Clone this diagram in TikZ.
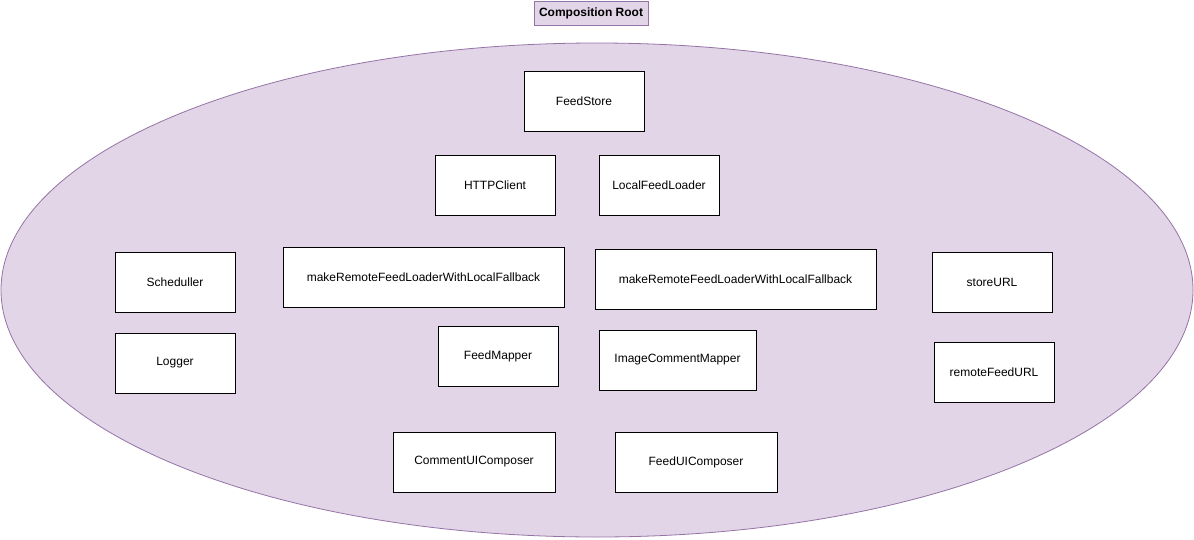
\documentclass[tikz,border=0pt]{standalone}
\usepackage{fontspec}
\setmainfont{Liberation Sans}
\usetikzlibrary{positioning}

\definecolor{rootfill}{HTML}{E1D5E7}
\definecolor{rootline}{HTML}{9673A6}

\begin{document}
\begin{tikzpicture}[x=0.75pt,y=-0.75pt,font=\fontsize{9}{11}\selectfont]
       \tikzstyle{part}=[draw=black, fill=white, line width=0.75pt, inner sep=0pt,
                         minimum width=90pt, minimum height=45pt]
       \tikzstyle{wide}=[part, minimum width=210.75pt]
       \useasboundingbox (0,0) rectangle (1194,539);

       % the root area
       \draw[draw=rootline, fill=rootfill, line width=0.6pt]
             (597,290) ellipse [x radius=447pt, y radius=185.25pt];
       \node[draw=rootline, fill=rootfill, line width=0.75pt, inner sep=0pt,
             minimum width=85.5pt, minimum height=18pt, font=\fontsize{9}{11}\selectfont\bfseries]
             (root) at (591,13) {Composition Root};

       \node[part] (feed_store)      at (584,101) {FeedStore};
       \node[part] (http_client)     at (495,185) {HTTPClient};
       \node[part] (local_loader)    at (659,185) {LocalFeedLoader};

       \node[part] (scheduller)      at (175,282) {Scheduller};
       \node[wide] (remote_loader_a) at (423.5,277) {makeRemoteFeedLoaderWithLocalFallback};
       \node[wide] (remote_loader_b) at (735.5,279) {makeRemoteFeedLoaderWithLocalFallback};
       \node[part] (store_url)       at (992,282) {storeURL};

       \node[part] (logger)          at (175,363) {Logger};
       \node[part] (feed_mapper)     at (498,356) {FeedMapper};
       \node[part, minimum width=117.75pt] (comment_mapper) at (677.5,360) {ImageCommentMapper};
       \node[part] (remote_url)      at (994,372) {remoteFeedURL};

       \node[part, minimum width=121.5pt] (comment_ui) at (474,462) {CommentUIComposer};
       \node[part, minimum width=121.5pt] (feed_ui)    at (696,462) {FeedUIComposer};
\end{tikzpicture}
\end{document}
